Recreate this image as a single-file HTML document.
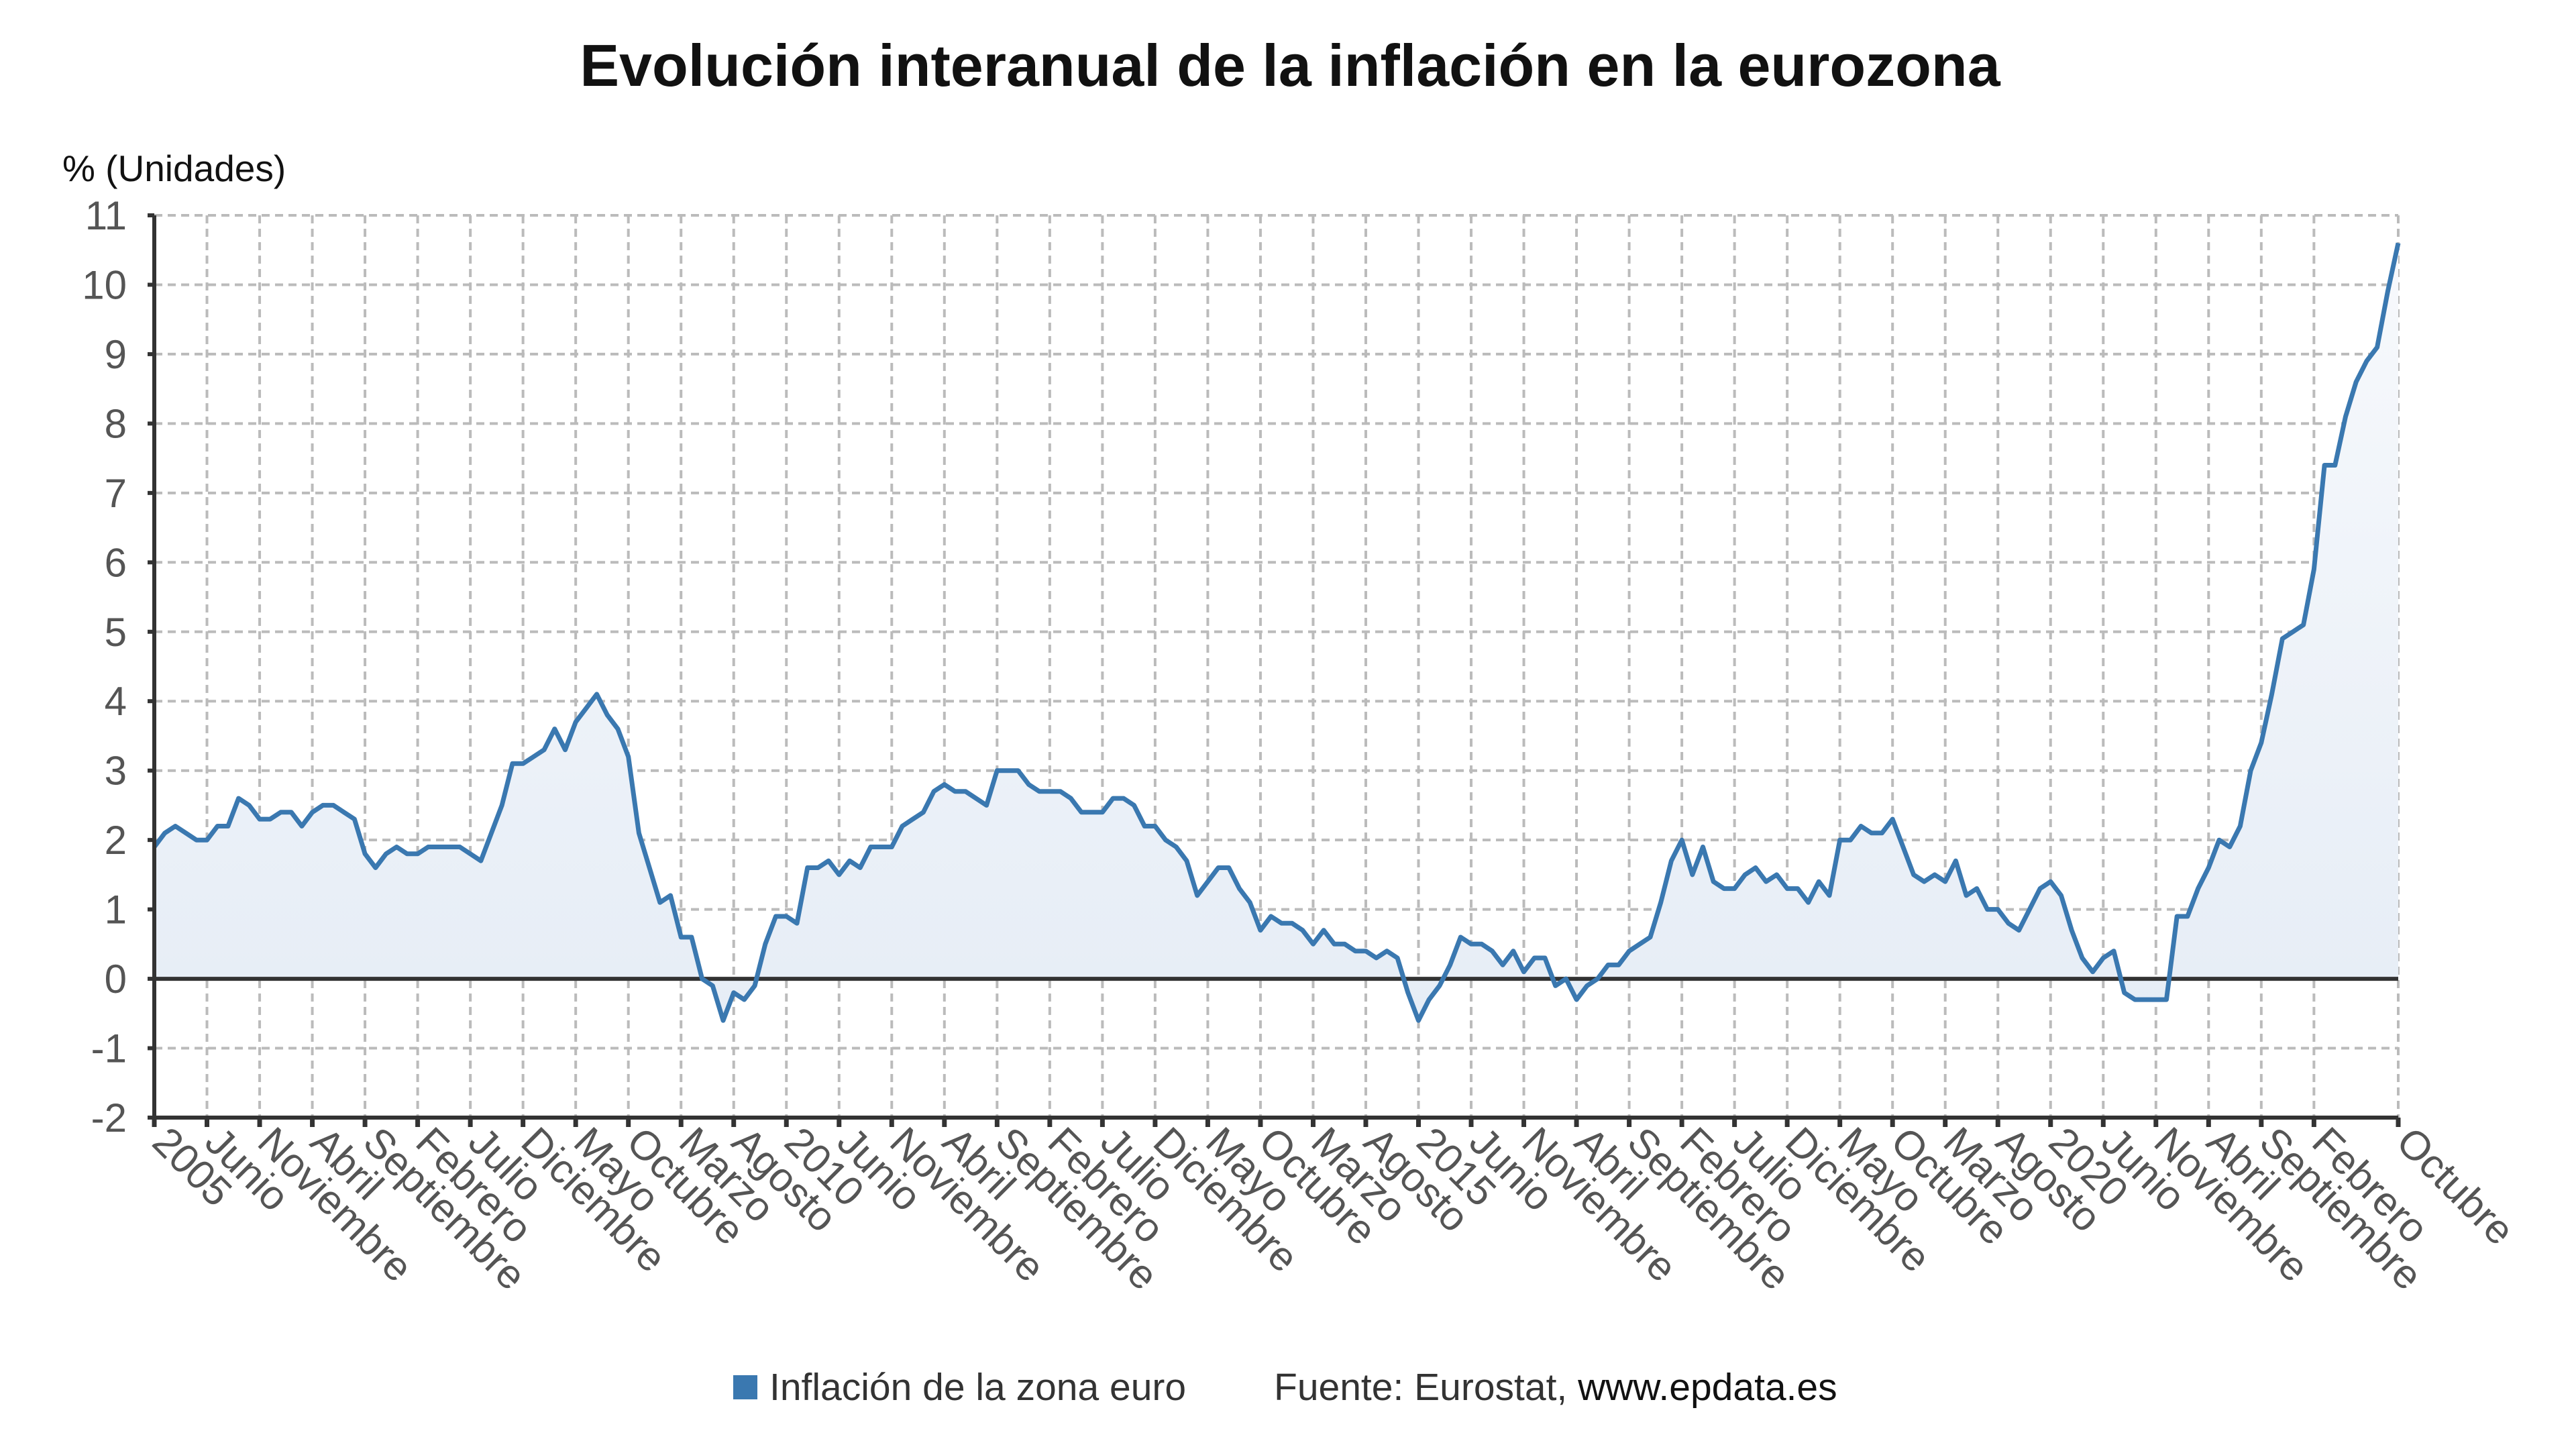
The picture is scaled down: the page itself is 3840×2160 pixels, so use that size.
<!DOCTYPE html>
<html><head><meta charset="utf-8"><style>
html,body{margin:0;padding:0;background:#fff;}
svg{display:block;}
</style></head><body>
<svg id="c" width="3840" height="2160" xmlns="http://www.w3.org/2000/svg" font-family="Liberation Sans, DejaVu Sans, sans-serif">
<defs><linearGradient id="g" x1="0" y1="0" x2="0" y2="1">
<stop offset="0" stop-color="#f7f9fc"/><stop offset="1" stop-color="#e6edf6"/></linearGradient></defs>
<text x="1923" y="128" text-anchor="middle" font-size="88" font-weight="bold" fill="#111">Evolución interanual de la inflación en la eurozona</text>
<text x="93" y="270" font-size="55" fill="#111">% (Unidades)</text>
<g id="grid"></g>
<g id="data"></g>
<g id="axes"></g>
<rect x="1093" y="2050" width="36" height="36" fill="#3a78b0"/>
<text x="1147" y="2087" font-size="57" fill="#333">Inflación de la zona euro</text>
<text x="1899" y="2087" font-size="57" fill="#333">Fuente: Eurostat, <tspan fill="#111">www.epdata.es</tspan></text>
</svg>
<script>
var d=[1.9,2.1,2.2,2.1,2.0,2.0,2.2,2.2,2.6,2.5,2.3,2.3,
2.4,2.4,2.2,2.4,2.5,2.5,2.4,2.3,1.8,1.6,1.8,1.9,
1.8,1.8,1.9,1.9,1.9,1.9,1.8,1.7,2.1,2.5,3.1,3.1,
3.2,3.3,3.6,3.3,3.7,3.9,4.1,3.8,3.6,3.2,2.1,1.6,
1.1,1.2,0.6,0.6,0.0,-0.1,-0.6,-0.2,-0.3,-0.1,0.5,0.9,
0.9,0.8,1.6,1.6,1.7,1.5,1.7,1.6,1.9,1.9,1.9,2.2,
2.3,2.4,2.7,2.8,2.7,2.7,2.6,2.5,3.0,3.0,3.0,2.8,
2.7,2.7,2.7,2.6,2.4,2.4,2.4,2.6,2.6,2.5,2.2,2.2,
2.0,1.9,1.7,1.2,1.4,1.6,1.6,1.3,1.1,0.7,0.9,0.8,
0.8,0.7,0.5,0.7,0.5,0.5,0.4,0.4,0.3,0.4,0.3,-0.2,
-0.6,-0.3,-0.1,0.2,0.6,0.5,0.5,0.4,0.2,0.4,0.1,0.3,
0.3,-0.1,0.0,-0.3,-0.1,0.0,0.2,0.2,0.4,0.5,0.6,1.1,
1.7,2.0,1.5,1.9,1.4,1.3,1.3,1.5,1.6,1.4,1.5,1.3,
1.3,1.1,1.4,1.2,2.0,2.0,2.2,2.1,2.1,2.3,1.9,1.5,
1.4,1.5,1.4,1.7,1.2,1.3,1.0,1.0,0.8,0.7,1.0,1.3,
1.4,1.2,0.7,0.3,0.1,0.3,0.4,-0.2,-0.3,-0.3,-0.3,-0.3,
0.9,0.9,1.3,1.6,2.0,1.9,2.2,3.0,3.4,4.1,4.9,5.0,
5.1,5.9,7.4,7.4,8.1,8.6,8.9,9.1,9.9,10.6];
var X0=230,X1=3575,YT=321,YB=1666,N=d.length-1;
function X(i){return X0+(X1-X0)*i/N;}
function Y(v){return YT+(11-v)*(YB-YT)/13;}
var g='',a='',s='';
for(var v=-2;v<=11;v++){g+='<line x1="'+X0+'" x2="'+X1+'" y1="'+Y(v)+'" y2="'+Y(v)+'" stroke="#bbb" stroke-width="4" stroke-dasharray="12,8"/>';
a+='<text x="189" y="'+(Y(v)+21)+'" text-anchor="end" font-size="60" fill="#555">'+v+'</text>';
a+='<line x1="'+(X0-10)+'" x2="'+X0+'" y1="'+Y(v)+'" y2="'+Y(v)+'" stroke="#333" stroke-width="6"/>';}
var mn=['Enero','Febrero','Marzo','Abril','Mayo','Junio','Julio','Agosto','Septiembre','Octubre','Noviembre','Diciembre'];
var ticks=[];for(var i=0;i<=205;i+=5)ticks.push(i);ticks.push(213);
ticks.forEach(function(i){var x=X(i);
g+='<line x1="'+x+'" x2="'+x+'" y1="'+YT+'" y2="'+YB+'" stroke="#bbb" stroke-width="4" stroke-dasharray="12,8"/>';
a+='<line x1="'+x+'" x2="'+x+'" y1="'+YB+'" y2="'+(YB+14)+'" stroke="#333" stroke-width="7"/>';
var m=i%12,lab=m==0?String(2005+i/12):mn[m];
a+='<text transform="translate('+(x-6)+','+(YB+40)+') rotate(45)" font-size="61" fill="#555">'+lab+'</text>';});
a+='<line x1="'+X0+'" x2="'+X0+'" y1="'+YT+'" y2="'+YB+'" stroke="#333" stroke-width="6"/>';
a+='<line x1="'+X0+'" x2="'+X1+'" y1="'+YB+'" y2="'+YB+'" stroke="#333" stroke-width="6"/>';
var pts=d.map(function(v,i){return X(i).toFixed(1)+','+Y(v).toFixed(1);}).join(' ');
s+='<polygon points="'+X0+','+Y(0)+' '+pts+' '+X1+','+Y(0)+'" fill="url(#g)"/>';
s+='<line x1="'+X0+'" x2="'+X1+'" y1="'+Y(0)+'" y2="'+Y(0)+'" stroke="#333" stroke-width="6"/>';
s+='<polyline points="'+pts+'" fill="none" stroke="#3a78b0" stroke-width="7" stroke-linejoin="round"/>';
document.getElementById('grid').innerHTML=g;
document.getElementById('data').innerHTML=s;
document.getElementById('axes').innerHTML=a;
</script>
</body></html>
